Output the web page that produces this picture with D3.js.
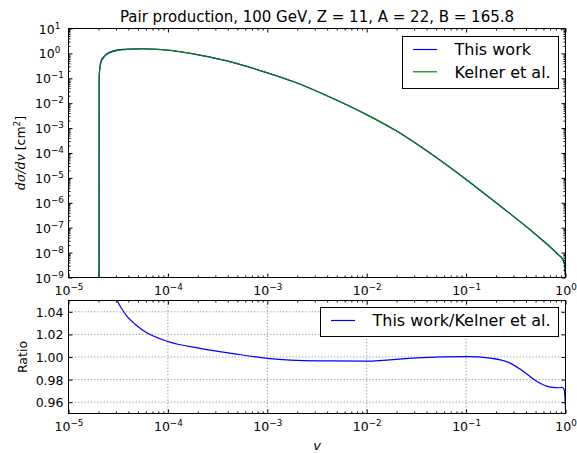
<!DOCTYPE html>
<html><head><meta charset="utf-8">
<script src="https://cdn.jsdelivr.net/npm/d3@7"></script>
<style>
body{margin:0;background:#fff}
text{font-family:"DejaVu Sans",sans-serif;fill:#000}
</style>
</head><body><script>
// cross section
var v = [2.030e-5, 2.035e-5, 2.07e-5, 2.13e-5, 2.23e-5, 2.40e-5, 2.61e-5, 3.16e-5, 3.98e-5, 5.62e-5, 7.94e-5, 1.05e-4, 2.09e-4, 4.57e-4, 1.0e-3, 1.82e-3, 3.98e-3, 1.0e-2, 2.0e-2, 3.98e-2, 0.1, 0.22, 0.479, 0.859, 0.933, 0.977, 1.0];
var thisWork = [1e-9, 0.12, 0.29, 0.50, 0.69, 0.93, 1.13, 1.39, 1.50, 1.54, 1.47, 1.34, 0.855, 0.428, 0.166, 0.0740, 0.0199, 3.46e-3, 7.6e-4, 1.26e-4, 8.7e-6, 7.5e-7, 6.2e-8, 7.7e-9, 5.45e-9, 3.4e-9, 1e-9];
var kelner = [1e-9, 0.10, 0.25, 0.45, 0.63, 0.87, 1.07, 1.32, 1.45, 1.51, 1.45, 1.32, 0.85, 0.427, 0.166, 0.0741, 0.0200, 3.47e-3, 7.6e-4, 1.26e-4, 8.7e-6, 7.6e-7, 6.3e-8, 7.9e-9, 5.6e-9, 3.5e-9, 1e-9];
// ratio panel
var ratioV = [2.8e-5, 3.08e-5, 3.47e-5, 3.84e-5, 4.68e-5, 5.64e-5, 1.0e-4, 2.1e-4, 4.55e-4, 1.0e-3, 3.14e-3, 1.0e-2, 3.2e-2, 0.1, 0.175, 0.278, 0.378, 0.516, 0.703, 0.871, 0.923, 0.973, 1.0];
var ratio = [1.058, 1.05, 1.042, 1.0365, 1.029, 1.0235, 1.0137, 1.0077, 1.003, 0.9988, 0.9966, 0.9964, 0.9993, 1.0003, 0.999, 0.9946, 0.9872, 0.9783, 0.9734, 0.9728, 0.9732, 0.971, 0.953];
var ratioTicks = [0.96, 0.98, 1.00, 1.02, 1.04];
var xExp = [-5, -4, -3, -2, -1, 0];
var yExp = [-9, -8, -7, -6, -5, -4, -3, -2, -1, 0, 1];

var width = 577, height = 453;
var left = 68.5, right = 565.5, top1 = 28.5, bot1 = 277.5, top2 = 300.5, bot2 = 413.5;

var svg = d3.select('body').append('svg').attr('width', width).attr('height', height);

var x = d3.scaleLog().domain([1e-5, 1]).range([left, right]);
var y1 = d3.scaleLog().domain([1e-9, 10]).range([bot1, top1]);
var y2 = d3.scaleLinear().domain([0.95, 1.05]).range([bot2, top2]);

function minorOf(exps){
	var m = [];
	for (var i = 0; i < exps.length - 1; i++)
		for (var k = 2; k < 10; k++) m.push(k * Math.pow(10, exps[i]));
	return m;
}
var xMajor = xExp.map(function(e){return Math.pow(10, e);});
var yMajor = yExp.map(function(e){return Math.pow(10, e);});

function sup(sel){
	sel.selectAll('.tick text').each(function(d){
		var t = d3.select(this), e = Math.round(Math.log10(d));
		t.text(null);
		t.append('tspan').text('10');
		t.append('tspan').attr('dy', -5).attr('font-size', '8.8px').text(String(e).replace('-', '\u2212'));
	});
}
function style(g){
	g.attr('font-family', null).attr('font-size', null);
	g.select('.domain').remove();
	g.selectAll('text').attr('font-size', '12.5px');
}

svg.append('clipPath').attr('id', 'c1').append('rect').attr('x', left).attr('y', top1).attr('width', right - left).attr('height', bot1 - top1);
svg.append('clipPath').attr('id', 'c2').append('rect').attr('x', left).attr('y', top2).attr('width', right - left).attr('height', bot2 - top2);

// ---- grid (ratio panel)
var grid = svg.append('g').attr('stroke', '#777').attr('stroke-width', 0.8).attr('stroke-dasharray', '1.2,2');
grid.selectAll('.gx').data(xMajor).enter().append('line')
	.attr('x1', function(d){return x(d);}).attr('x2', function(d){return x(d);}).attr('y1', top2).attr('y2', bot2);
grid.selectAll('.gy').data(ratioTicks).enter().append('line')
	.attr('y1', function(d){return y2(d);}).attr('y2', function(d){return y2(d);}).attr('x1', left).attr('x2', right);

// ---- curves
var line1 = function(vals){
	return d3.line().curve(d3.curveMonotoneX)
		.x(function(d, i){return x(v[i]);})
		.y(function(d){return y1(d);})(vals);
};
var p1 = svg.append('g').attr('clip-path', 'url(#c1)');
p1.append('path').attr('d', line1(thisWork)).attr('fill', 'none').attr('stroke', '#0000ff').attr('stroke-width', 1.2);
p1.append('path').attr('d', line1(kelner)).attr('fill', 'none').attr('stroke', '#008000').attr('stroke-width', 1.2);

var line2 = d3.line().curve(d3.curveMonotoneX)
	.x(function(d, i){return x(ratioV[i]);})
	.y(function(d){return y2(d);});
svg.append('g').attr('clip-path', 'url(#c2)').append('path').attr('d', line2(ratio))
	.attr('fill', 'none').attr('stroke', '#0000ff').attr('stroke-width', 1.2);

// ---- axes, ticks inside on all four sides
function xAxes(yb, yt){
	var b = svg.append('g').attr('transform', 'translate(0,' + yb + ')')
		.call(d3.axisBottom(x).tickValues(xMajor).tickSizeInner(-4).tickSizeOuter(0).tickPadding(9).tickFormat(function(){return '';}));
	style(b); sup(b);
	style(svg.append('g').attr('transform', 'translate(0,' + yb + ')')
		.call(d3.axisBottom(x).tickValues(minorOf(xExp)).tickSizeInner(-2).tickSizeOuter(0).tickFormat(function(){return '';})));
	style(svg.append('g').attr('transform', 'translate(0,' + yt + ')')
		.call(d3.axisTop(x).tickValues(xMajor).tickSizeInner(-4).tickSizeOuter(0).tickFormat(function(){return '';})));
	style(svg.append('g').attr('transform', 'translate(0,' + yt + ')')
		.call(d3.axisTop(x).tickValues(minorOf(xExp)).tickSizeInner(-2).tickSizeOuter(0).tickFormat(function(){return '';})));
}
xAxes(bot1, top1);
xAxes(bot2, top2);

// top panel y
var yl = svg.append('g').attr('transform', 'translate(' + left + ',0)')
	.call(d3.axisLeft(y1).tickValues(yMajor).tickSizeInner(-4).tickSizeOuter(0).tickPadding(19).tickFormat(function(){return '';}));
style(yl); sup(yl);
yl.selectAll('.tick text').attr('text-anchor', 'middle').attr('dy', '0.36em');
[[d3.axisLeft, left], [d3.axisRight, right]].forEach(function(a){
	style(svg.append('g').attr('transform', 'translate(' + a[1] + ',0)')
		.call(a[0](y1).tickValues(minorOf(yExp)).tickSizeInner(-2).tickSizeOuter(0).tickFormat(function(){return '';})));
});
style(svg.append('g').attr('transform', 'translate(' + right + ',0)')
	.call(d3.axisRight(y1).tickValues(yMajor).tickSizeInner(-4).tickSizeOuter(0).tickFormat(function(){return '';})));

// ratio panel y
var rl = svg.append('g').attr('transform', 'translate(' + left + ',0)')
	.call(d3.axisLeft(y2).tickValues(ratioTicks).tickSizeInner(-4).tickSizeOuter(0).tickPadding(5).tickFormat(d3.format('.2f')));
style(rl);
rl.selectAll('.tick text').attr('dy', '0.36em');
style(svg.append('g').attr('transform', 'translate(' + right + ',0)')
	.call(d3.axisRight(y2).tickValues(ratioTicks).tickSizeInner(-4).tickSizeOuter(0).tickFormat(function(){return '';})));

// ---- frames
svg.append('rect').attr('x', left).attr('y', top1).attr('width', right - left).attr('height', bot1 - top1).attr('fill', 'none').attr('stroke', '#000');
svg.append('rect').attr('x', left).attr('y', top2).attr('width', right - left).attr('height', bot2 - top2).attr('fill', 'none').attr('stroke', '#000');

// ---- legends
function legend(x0, y0, w, h, items){
	var g = svg.append('g');
	g.append('rect').attr('x', x0).attr('y', y0).attr('width', w).attr('height', h).attr('fill', '#fff').attr('stroke', '#000');
	items.forEach(function(it, i){
		var yy = y0 + 13 + i * 22.3;
		g.append('line').attr('x1', x0 + 10.5).attr('x2', x0 + 34.5).attr('y1', yy).attr('y2', yy).attr('stroke', it[1]).attr('stroke-width', 1.2);
		g.append('text').attr('x', x0 + 52).attr('y', yy + 5.8).attr('font-size', '16px').text(it[0]);
	});
}
legend(402.5, 36.5, 156, 52, [['This work', '#0000ff'], ['Kelner et al.', '#008000']]);
legend(320.5, 307.5, 238, 29, [['This work/Kelner et al.', '#0000ff']]);

// ---- titles and labels
svg.append('text').attr('x', (left + right) / 2).attr('y', 22).attr('text-anchor', 'middle').attr('font-size', '15px')
	.text('Pair production, 100 GeV, Z = 11, A = 22, B = 165.8');

var yt = svg.append('text').attr('transform', 'translate(25,' + ((top1 + bot1) / 2) + ') rotate(-90)').attr('text-anchor', 'middle').attr('font-size', '12.5px');
yt.append('tspan').attr('font-family', 'DejaVu Serif').attr('font-style', 'italic').text('d\u03c3/dv');
yt.append('tspan').text(' [cm');
yt.append('tspan').attr('dy', -5).attr('font-size', '8.8px').text('2');
yt.append('tspan').attr('dy', 5).text(']');

svg.append('text').attr('transform', 'translate(27,' + ((top2 + bot2) / 2) + ') rotate(-90)').attr('text-anchor', 'middle').attr('font-size', '12.5px').text('Ratio');

svg.append('text').attr('x', (left + right) / 2).attr('y', 450).attr('text-anchor', 'middle')
	.attr('font-family', 'DejaVu Serif').attr('font-style', 'italic').attr('font-size', '13px').text('v');
</script></body></html>
